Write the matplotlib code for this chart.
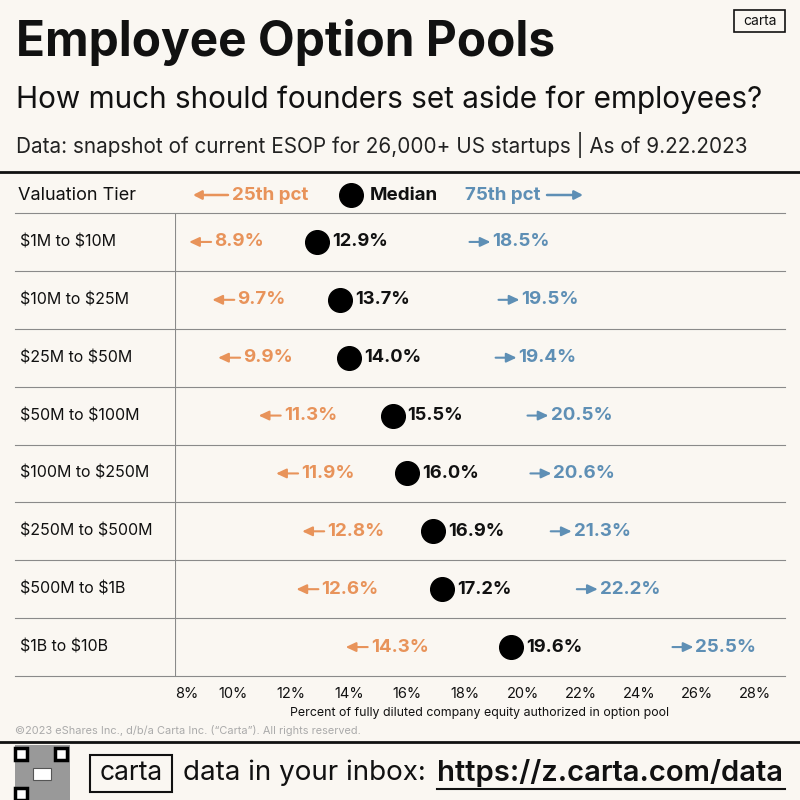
import matplotlib
matplotlib.use("Agg")
import matplotlib.pyplot as plt
from matplotlib.patches import Rectangle, FancyArrowPatch

plt.rcParams['font.family'] = ['Inter', 'DejaVu Sans']

BG = '#faf7f2'
ORANGE = '#e8935a'
BLUE = '#5e8fb5'
GRID = '#8a8a8a'

tiers = ["$1M to $10M", "$10M to $25M", "$25M to $50M", "$50M to $100M",
         "$100M to $250M", "$250M to $500M", "$500M to $1B", "$1B to $10B"]
p25 = [8.9, 9.7, 9.9, 11.3, 11.9, 12.8, 12.6, 14.3]
median = [12.9, 13.7, 14.0, 15.5, 16.0, 16.9, 17.2, 19.6]
p75 = [18.5, 19.5, 19.4, 20.5, 20.6, 21.3, 22.2, 25.5]
ticks = [8, 10, 12, 14, 16, 18, 20, 22, 24, 26, 28]

W, H = 800, 800


def fx(x):
    return x / W


def fy(y):
    return 1 - y / H


ARROWSTYLE = '-|>,head_length=5,head_width=2.6'
SMALL_ARROW = '-|>,head_length=0.6,head_width=0.28'


def arrow(xa, xb, y, color):
    fig.add_artist(FancyArrowPatch((fx(xa), fy(y)), (fx(xb), fy(y)), transform=fig.transFigure,
                                   arrowstyle=ARROWSTYLE, color=color, lw=1.8,
                                   shrinkA=0, shrinkB=0, mutation_scale=1))


fig = plt.figure(figsize=(8, 8), dpi=100, facecolor=BG)

# header texts
fig.text(fx(16), fy(42), "Employee Option Pools", fontsize=34.4, fontweight='bold',
         va='center', ha='left', color='#111111')
fig.text(fx(16), fy(100), "How much should founders set aside for employees?",
         fontsize=21.4, va='center', ha='left', color='#111111')
fig.text(fx(16), fy(145), "Data: snapshot of current ESOP for 26,000+ US startups | As of 9.22.2023",
         fontsize=14.9, va='center', ha='left', color='#222222')
fig.add_artist(Rectangle((fx(734), fy(32)), fx(51), 22 / H, transform=fig.transFigure,
                         fill=False, lw=1.2, ec='#111111'))
fig.text(fx(759.5), fy(21), "carta", fontsize=10, ha='center', va='center', color='#111111')

# thick rules
fig.add_artist(plt.Line2D([0, 1], [fy(172), fy(172)], color='#111111', lw=2,
                          transform=fig.transFigure))
fig.add_artist(plt.Line2D([0, 1], [fy(742), fy(742)], color='#111111', lw=2,
                          transform=fig.transFigure))

# main axes
ax = fig.add_axes([fx(175), fy(676), fx(610), 463 / H])
ax.set_facecolor(BG)
x0, x1 = 8, 8 + 610 / 29
ax.set_xlim(x0, x1)
ax.set_ylim(len(tiers) - 0.5, -0.5)
for s in ax.spines.values():
    s.set_visible(False)
ax.set_yticks([])
ax.set_xticks(ticks)
ax.set_xticklabels([f"{t}%" for t in ticks], fontsize=10.5, color='#111111')
ax.tick_params(axis='x', length=0, pad=8)
ax.get_xticklabels()[0].set_ha('left')
ax.set_xlabel("Percent of fully diluted company equity authorized in option pool",
              fontsize=8.9, color='#111111', labelpad=4)

left_frac = (15 - 175) / 610
for i in range(len(tiers) + 1):
    ax.axhline(i - 0.5, xmin=left_frac, xmax=1, color=GRID, lw=0.8, clip_on=False)
ax.axvline(x0, color=GRID, lw=0.8)

px = (x1 - x0) / 610  # data units per pixel
for i, t in enumerate(tiers):
    ax.text(x0 - 155 * px, i, t, fontsize=11.5, va='center', ha='left', color='#111111',
            parse_math=False)
    ax.annotate("", xy=(p25[i] - 12 * px, i), xytext=(p25[i] + 10 * px, i),
                arrowprops=dict(arrowstyle=SMALL_ARROW, color=ORANGE, lw=1.5,
                                shrinkA=0, shrinkB=0))
    ax.text(p25[i] + 13 * px, i, f"{p25[i]:.1f}%", fontsize=13.5, fontweight='bold',
            color=ORANGE, va='center', ha='left')
    ax.annotate("", xy=(p75[i] + 11 * px, i), xytext=(p75[i] - 10 * px, i),
                arrowprops=dict(arrowstyle=SMALL_ARROW, color=BLUE, lw=1.5,
                                shrinkA=0, shrinkB=0))
    ax.text(p75[i] + 13 * px, i, f"{p75[i]:.1f}%", fontsize=13.5, fontweight='bold',
            color=BLUE, va='center', ha='left')
    ax.text(median[i] + 15 * px, i, f"{median[i]:.1f}%", fontsize=13.2, fontweight='bold',
            color='#111111', va='center', ha='left')
ax.scatter(median, range(len(tiers)), s=290, color='black', zorder=3, clip_on=False)

# legend row
fig.text(fx(18), fy(195), "Valuation Tier", fontsize=13, va='center', ha='left', color='#111111')
arrow(228, 193, 195, ORANGE)
fig.text(fx(232), fy(195), "25th pct", fontsize=13.5, fontweight='bold', va='center',
         ha='left', color=ORANGE)
fig.add_artist(plt.Line2D([fx(351)], [fy(195)], marker='o', markersize=17, color='black',
                          transform=fig.transFigure))
fig.text(fx(370), fy(195), "Median", fontsize=13.5, fontweight='bold', va='center',
         ha='left', color='#111111')
fig.text(fx(465), fy(195), "75th pct", fontsize=13.5, fontweight='bold', va='center',
         ha='left', color=BLUE)
arrow(547, 583, 195, BLUE)

# footer
fig.text(fx(15), fy(730), "\u00a92023 eShares Inc., d/b/a Carta Inc. (\u201cCarta\u201d). All rights reserved.",
         fontsize=7.9, va='center', ha='left', color='#aaaaaa')

# QR-like block
fig.add_artist(Rectangle((fx(15), fy(800)), fx(55), 55 / H, transform=fig.transFigure,
                         fc='#999999', ec='none', hatch='xxxx', lw=0))
for (qx, qy) in [(15, 748), (55, 748), (15, 788)]:
    fig.add_artist(Rectangle((fx(qx), fy(qy + 12)), fx(12), 12 / H, transform=fig.transFigure,
                             fc='white', ec='black', lw=2.5))
fig.add_artist(Rectangle((fx(33), fy(780)), fx(18), 12 / H, transform=fig.transFigure,
                         fc='white', ec='#555555', lw=0.8))

fig.add_artist(Rectangle((fx(90), fy(792)), fx(82), 37 / H, transform=fig.transFigure,
                         fill=False, lw=1.5, ec='#111111'))
fig.text(fx(131), fy(773), "carta", fontsize=19, ha='center', va='center', color='#111111')
fig.text(fx(183), fy(773), "data in your inbox:", fontsize=20, ha='left', va='center',
         color='#111111')
fig.text(fx(437), fy(773), "https://z.carta.com/data", fontsize=21, fontweight='semibold',
         ha='left', va='center', color='#111111')
fig.add_artist(plt.Line2D([fx(437), fx(785)], [fy(789), fy(789)], color='#111111', lw=1.5,
                          transform=fig.transFigure))

fig.savefig("out.png", dpi=100, facecolor=BG)
